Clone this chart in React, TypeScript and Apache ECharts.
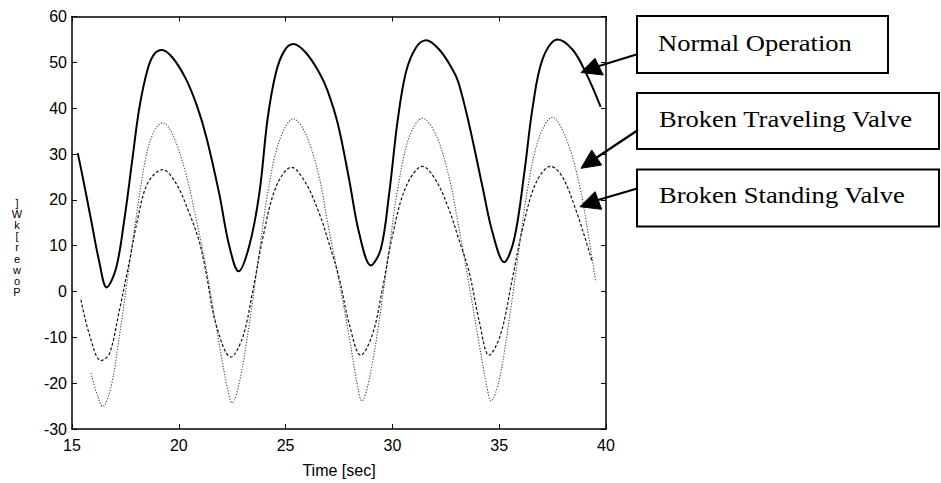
import React, { useEffect, useRef } from "react";
import * as echarts from "echarts";

// Time [sec], Power [kW]
const normalOperation: [number, number][] = [
  [15.27, 30.2], [15.5, 25.0], [15.89, 15.7], [16.28, 6.4], [16.62, 0.9], [17.06, 5.0],
  [17.45, 15.7], [17.84, 29.3], [18.15, 40.0], [18.54, 48.5], [18.85, 51.8], [19.21, 52.7],
  [19.71, 51.0], [20.33, 46.4], [20.85, 40.5], [21.3, 33.5], [21.89, 21.4], [22.36, 10.0],
  [22.8, 4.4], [23.3, 10.0], [23.77, 21.4], [24.16, 37.8], [24.55, 47.8], [24.94, 52.5],
  [25.36, 54.0], [25.95, 52.1], [26.57, 47.8], [26.95, 44.0], [27.45, 36.5], [27.98, 24.3],
  [28.44, 12.8], [28.99, 5.7], [29.46, 9.3], [29.85, 21.4], [30.24, 37.1], [30.63, 47.8],
  [31.1, 53.2], [31.57, 54.8], [32.19, 52.8], [32.81, 48.5], [33.1, 45.5], [33.59, 36.5],
  [34.22, 22.8], [34.69, 12.8], [35.23, 6.4], [35.7, 11.4], [36.17, 25.7], [36.56, 40.0],
  [37.03, 50.7], [37.73, 55.0], [38.43, 52.8], [39.05, 47.8], [39.75, 40.3],
];

const brokenStandingValve: [number, number][] = [
  [15.42, -1.8], [15.81, -9.3], [16.36, -15.1], [16.75, -13.6], [17.21, -4.3], [17.68, 6.4],
  [18.07, 15.7], [18.54, 23.6], [19.24, 26.6], [19.87, 23.6], [20.49, 17.1], [20.95, 11.0],
  [21.27, 4.3], [21.74, -7.1], [22.44, -14.3], [22.99, -10.0], [23.46, 0.0], [23.92, 11.4],
  [24.55, 22.8], [25.28, 27.1], [25.95, 23.6], [26.57, 17.1], [27.0, 11.0], [27.51, 2.9],
  [27.98, -7.1], [28.52, -13.9], [29.07, -9.3], [29.54, 0.7], [30.0, 12.1], [30.63, 22.8],
  [31.41, 27.3], [32.03, 24.3], [32.65, 17.9], [33.1, 11.5], [33.59, 4.3], [34.06, -6.4],
  [34.53, -13.9], [35.07, -9.3], [35.62, 2.9], [36.09, 13.6], [36.71, 23.6], [37.41, 27.3],
  [37.96, 25.0], [38.58, 17.9], [39.13, 10.0], [39.35, 6.5],
];

const brokenTravelingValve: [number, number][] = [
  [15.89, -17.8], [16.2, -22.8], [16.44, -25.1], [16.83, -20.7], [17.21, -10.0], [17.6, 2.9],
  [17.99, 15.7], [18.46, 29.3], [18.85, 35.0], [19.24, 36.8], [19.71, 34.3], [20.33, 25.7],
  [20.85, 15.0], [21.3, 4.5], [21.89, -11.4], [22.29, -21.4], [22.49, -24.3], [22.83, -20.0],
  [23.3, -7.1], [23.77, 8.6], [24.16, 21.4], [24.7, 32.8], [25.37, 37.7], [25.95, 34.3],
  [26.57, 25.0], [26.95, 15.5], [27.51, 2.1], [27.98, -10.0], [28.37, -20.7], [28.57, -23.9],
  [28.91, -19.3], [29.38, -6.4], [29.85, 9.3], [30.24, 22.1], [30.78, 33.6], [31.41, 37.8],
  [32.03, 34.3], [32.65, 25.0], [33.05, 15.5], [33.59, 1.4], [34.06, -11.4], [34.45, -21.4],
  [34.61, -23.9], [35.0, -19.3], [35.46, -6.4], [35.93, 9.3], [36.32, 22.1], [36.87, 33.6],
  [37.49, 38.0], [38.12, 33.6], [38.74, 23.6], [39.21, 11.4], [39.52, 2.1],
];

const xRange = { min: 15, max: 40, interval: 5 };
const yRange = { min: -30, max: 60, interval: 10 };
const annotationLabels = ["Normal Operation", "Broken Traveling Valve", "Broken Standing Valve"];
const yAxisName = "Power [kW]";
const xAxisName = "Time [sec]";

const SANS = "Liberation Sans";
const SERIF = "Liberation Serif";

export default function App() {
  const ref = useRef<HTMLDivElement>(null);

  useEffect(() => {
    if (!ref.current) return;
    const chart = echarts.init(ref.current, undefined, { renderer: "svg" });

    const axisLine = { show: true, onZero: false, lineStyle: { color: "#000", width: 1.5 } };
    const axisTick = { show: true, inside: true, length: 5, lineStyle: { color: "#000", width: 1 } };

    // stacked y-axis name (characters upright, read bottom to top)
    const yNameStack = yAxisName.split("").reverse().filter((c) => c !== " ").join("\n");

    const boxes = [
      { x: 637, y: 16, w: 251, h: 57, tx: 658, ty: 43 },
      { x: 637, y: 93, w: 302, h: 56, tx: 659, ty: 119.5 },
      { x: 637, y: 169.5, w: 302, h: 57, tx: 659, ty: 195.5 },
    ];
    const arrows = [
      { from: [638, 54], base: [599, 66], tri: [[595, 58.3], [603.3, 75], [581, 72.5]] },
      { from: [638, 130], base: [596, 158], tri: [[591.7, 150], [601.7, 165], [581, 168.3]] },
      { from: [638, 188.3], base: [598, 200], tri: [[595, 191.7], [601.7, 209.3], [580, 206.7]] },
    ];

    const graphic: any[] = [];
    boxes.forEach((b, i) => {
      graphic.push({
        type: "rect",
        shape: { x: b.x, y: b.y, width: b.w, height: b.h },
        style: { fill: "#fff", stroke: "#000", lineWidth: 2 },
        z: 10,
      });
      graphic.push({
        type: "text",
        x: b.tx,
        y: b.ty,
        scaleX: 1.155,
        style: {
          text: annotationLabels[i],
          fontSize: 23,
          fontFamily: SERIF,
          fill: "#000",
          align: "left",
          verticalAlign: "middle",
        },
        z: 11,
      });
    });
    arrows.forEach((a) => {
      graphic.push({
        type: "line",
        shape: { x1: a.from[0], y1: a.from[1], x2: a.base[0], y2: a.base[1] },
        style: { stroke: "#000", lineWidth: 2.2 },
        z: 10,
      });
      graphic.push({
        type: "polygon",
        shape: { points: a.tri },
        style: { fill: "#000", stroke: "#000", lineWidth: 1 },
        z: 10,
      });
    });
    graphic.push({
      type: "text",
      x: 17,
      y: 197,
      style: {
        text: yNameStack,
        fontSize: 11,
        fontFamily: SANS,
        lineHeight: 11.2,
        fill: "#000",
        align: "center",
        verticalAlign: "top",
      },
    });

    chart.setOption({
      animation: false,
      backgroundColor: "#fff",
      grid: { left: 72, right: 335, top: 16.5, bottom: 46.5, containLabel: false },
      xAxis: [
        {
          type: "value",
          ...xRange,
          position: "bottom",
          axisLine,
          axisTick,
          splitLine: { show: false },
          axisLabel: { color: "#000", fontSize: 16, fontFamily: SANS, margin: 8 },
          name: xAxisName,
          nameLocation: "middle",
          nameGap: 33,
          nameTextStyle: { color: "#000", fontSize: 16, fontFamily: SANS },
        },
        {
          type: "value",
          ...xRange,
          position: "top",
          axisLine,
          axisTick,
          splitLine: { show: false },
          axisLabel: { show: false },
        },
      ],
      yAxis: [
        {
          type: "value",
          ...yRange,
          position: "left",
          axisLine,
          axisTick,
          splitLine: { show: false },
          axisLabel: { color: "#000", fontSize: 16, fontFamily: SANS, margin: 5 },
        },
        {
          type: "value",
          ...yRange,
          position: "right",
          axisLine,
          axisTick,
          splitLine: { show: false },
          axisLabel: { show: false },
        },
      ],
      series: [
        {
          name: annotationLabels[0],
          type: "line",
          xAxisIndex: 0,
          yAxisIndex: 0,
          data: normalOperation,
          showSymbol: false,
          smooth: 0.35,
          lineStyle: { color: "#000", width: 2 },
          z: 3,
        },
        {
          name: annotationLabels[1],
          type: "line",
          xAxisIndex: 0,
          yAxisIndex: 0,
          data: brokenTravelingValve,
          showSymbol: false,
          smooth: 0.35,
          lineStyle: { color: "#444", width: 1.1, type: [1.2, 1.6] },
          z: 2,
        },
        {
          name: annotationLabels[2],
          type: "line",
          xAxisIndex: 0,
          yAxisIndex: 0,
          data: brokenStandingValve,
          showSymbol: false,
          smooth: 0.35,
          lineStyle: { color: "#111", width: 1.2, type: [3, 2] },
          z: 2,
        },
      ],
      graphic,
    });

    return () => chart.dispose();
  }, []);

  return (
    <div
      ref={ref}
      style={{ position: "fixed", left: 0, top: 0, width: 941, height: 483, background: "#fff" }}
    />
  );
}
